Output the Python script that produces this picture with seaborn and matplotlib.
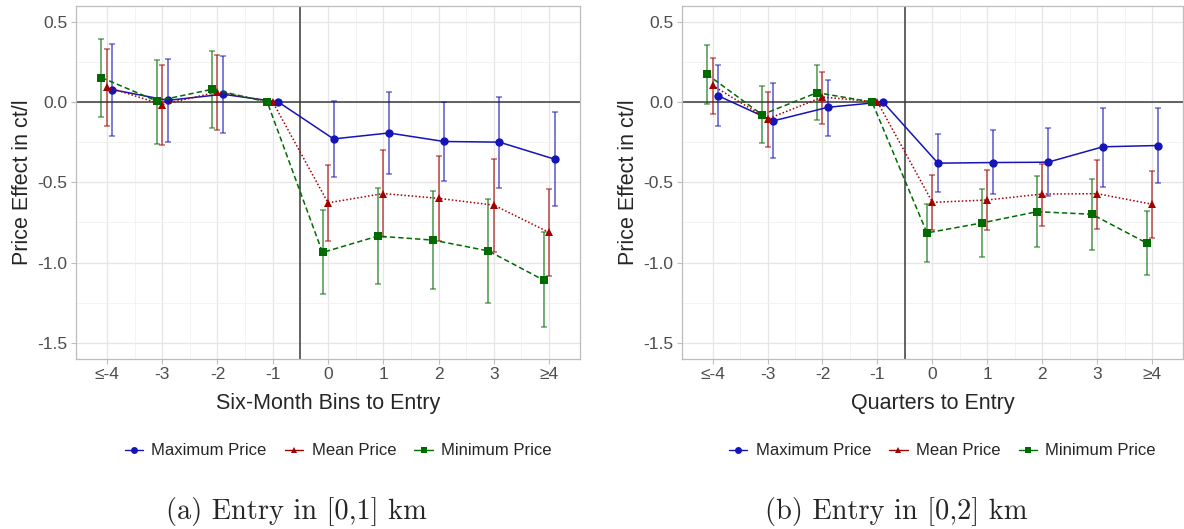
import numpy as np
import pandas as pd
import seaborn as sns
import matplotlib.pyplot as plt
from matplotlib.lines import Line2D

# bins on the x axis (same for both panels)
bins = ["≤-4", "-3", "-2", "-1", "0", "1", "2", "3", "≥4"]
series = ["Maximum Price", "Mean Price", "Minimum Price"]

# panel (a): entry in [0,1] km, six-month bins
a_max = [0.077, 0.010, 0.048, 0.0, -0.230, -0.193, -0.246, -0.250, -0.356]
a_max_lo = [-0.21, -0.25, -0.19, np.nan, -0.466, -0.45, -0.49, -0.535, -0.645]
a_max_hi = [0.36, 0.27, 0.286, np.nan, 0.006, 0.065, 0.0, 0.03, -0.064]
a_mean = [0.093, -0.016, 0.062, 0.0, -0.628, -0.570, -0.600, -0.642, -0.812]
a_mean_lo = [-0.15, -0.267, -0.176, np.nan, -0.864, -0.84, -0.864, -0.933, -1.086]
a_mean_hi = [0.33, 0.228, 0.295, np.nan, -0.392, -0.302, -0.336, -0.358, -0.539]
a_min = [0.152, 0.006, 0.079, 0.0, -0.937, -0.835, -0.860, -0.927, -1.109]
a_min_lo = [-0.093, -0.259, -0.162, np.nan, -1.194, -1.134, -1.163, -1.25, -1.401]
a_min_hi = [0.394, 0.264, 0.32, np.nan, -0.675, -0.537, -0.555, -0.605, -0.808]

# panel (b): entry in [0,2] km, quarters
b_max = [0.039, -0.118, -0.033, 0.0, -0.381, -0.377, -0.375, -0.279, -0.271]
b_max_lo = [-0.151, -0.35, -0.209, np.nan, -0.561, -0.575, -0.588, -0.53, -0.505]
b_max_hi = [0.23, 0.116, 0.139, np.nan, -0.2, -0.176, -0.159, -0.035, -0.037]
b_mean = [0.103, -0.106, 0.031, 0.0, -0.625, -0.610, -0.573, -0.571, -0.637]
b_mean_lo = [-0.074, -0.279, -0.139, np.nan, -0.795, -0.799, -0.774, -0.79, -0.846]
b_mean_hi = [0.275, 0.062, 0.188, np.nan, -0.457, -0.426, -0.383, -0.362, -0.432]
b_min = [0.172, -0.079, 0.058, 0.0, -0.815, -0.753, -0.683, -0.699, -0.879]
b_min_lo = [-0.01, -0.254, -0.114, np.nan, -0.995, -0.962, -0.902, -0.921, -1.078]
b_min_hi = [0.354, 0.097, 0.228, np.nan, -0.637, -0.544, -0.461, -0.478, -0.677]

colors = {"Maximum Price": "#1414b8", "Mean Price": "#a30000", "Minimum Price": "#006b00"}
markers = {"Maximum Price": "o", "Mean Price": "^", "Minimum Price": "s"}
dashes = {"Maximum Price": "", "Mean Price": (1, 1.4), "Minimum Price": (3.5, 2)}
dodge = {"Maximum Price": 0.1, "Mean Price": 0.0, "Minimum Price": -0.1}

sns.set_theme(style="white")
plt.rcParams["font.family"] = ["Liberation Sans", "DejaVu Sans"]


def make_frame(est, lo, hi):
    rows = []
    for s in series:
        for i, b in enumerate(bins):
            rows.append({"series": s, "bin": b, "pos": i + dodge[s],
                         "est": est[s][i], "lo": lo[s][i], "hi": hi[s][i]})
    return pd.DataFrame(rows)


def draw(ax, df, xlabel):
    ax.set_xlim(-0.56, 8.56)
    ax.set_ylim(-1.6, 0.6)
    ax.set_xticks(range(len(bins)))
    ax.set_xticklabels(bins)
    ax.set_xticks(np.arange(0.5, 8, 1), minor=True)
    ax.set_yticks([0.5, 0.0, -0.5, -1.0, -1.5])
    ax.set_yticklabels(["0.5", "0.0", "-0.5", "-1.0", "-1.5"])
    ax.set_yticks([0.25, -0.25, -0.75, -1.25], minor=True)
    ax.grid(which="major", color="#e6e6e6", linewidth=0.9)
    ax.grid(which="minor", color="#f1f1f1", linewidth=0.6)
    ax.set_axisbelow(True)
    for sp in ax.spines.values():
        sp.set_color("#bdbdbd")
        sp.set_linewidth(0.9)
    ax.tick_params(which="major", length=3.5, width=0.8, color="#bdbdbd",
                   labelsize=12.5, labelcolor="#4d4d4d", pad=2.5, bottom=True, left=True)
    ax.tick_params(which="minor", length=0)

    ax.axhline(0, color="#3a3a3a", linewidth=1.1, zorder=1)
    ax.axvline(3.5, color="#3a3a3a", linewidth=1.1, zorder=1)

    for s in series:
        d = df[df["series"] == s]
        ax.errorbar(d["pos"], d["est"], yerr=[d["est"] - d["lo"], d["hi"] - d["est"]],
                    fmt="none", ecolor=colors[s], alpha=0.6, elinewidth=1.3,
                    capsize=2.5, capthick=1.1, zorder=2)

    sns.lineplot(data=df, x="pos", y="est", hue="series", style="series",
                 palette=colors, markers=markers, dashes=dashes, sort=False,
                 estimator=None, linewidth=1.1, markersize=6, markeredgewidth=0,
                 legend=False, ax=ax, zorder=3)

    ax.set_xlabel(xlabel, fontsize=15.5, labelpad=8)
    ax.set_ylabel("Price Effect in ct/l", fontsize=15.5, labelpad=3)

    handles = [Line2D([], [], color=colors[s], marker=markers[s], markersize=5,
                      markeredgewidth=0, linewidth=1.0) for s in series]
    ax.legend(handles, series, loc="center", bbox_to_anchor=(0.52, -0.26), ncol=3,
              frameon=False, fontsize=12, handlelength=1.1, handletextpad=0.5,
              columnspacing=1.1)


fig = plt.figure(figsize=(11.84, 5.29), dpi=100)
ax1 = fig.add_axes([0.0642, 0.3214, 0.4257, 0.668])
ax2 = fig.add_axes([0.5758, 0.3214, 0.4235, 0.668])

df_a = make_frame({"Maximum Price": a_max, "Mean Price": a_mean, "Minimum Price": a_min},
                  {"Maximum Price": a_max_lo, "Mean Price": a_mean_lo, "Minimum Price": a_min_lo},
                  {"Maximum Price": a_max_hi, "Mean Price": a_mean_hi, "Minimum Price": a_min_hi})
df_b = make_frame({"Maximum Price": b_max, "Mean Price": b_mean, "Minimum Price": b_min},
                  {"Maximum Price": b_max_lo, "Mean Price": b_mean_lo, "Minimum Price": b_min_lo},
                  {"Maximum Price": b_max_hi, "Mean Price": b_mean_hi, "Minimum Price": b_min_hi})

draw(ax1, df_a, "Six-Month Bins to Entry")
draw(ax2, df_b, "Quarters to Entry")

fig.text(296 / 1184, 1 - 511 / 529, "(a) Entry in [0,1] km", family="cmr10",
         fontsize=20.5, ha="center", va="center")
fig.text(896 / 1184, 1 - 511 / 529, "(b) Entry in [0,2] km", family="cmr10",
         fontsize=20.5, ha="center", va="center")

fig.savefig("out.png", dpi=100)
